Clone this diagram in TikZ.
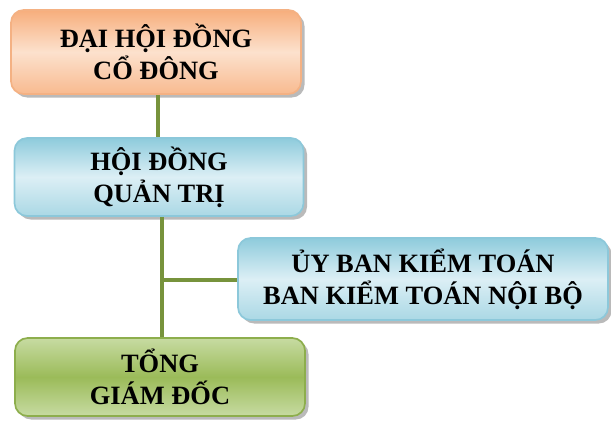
\documentclass[tikz,border=0pt]{standalone}
\usepackage{fontspec}
\setmainfont{Liberation Serif}
\usepackage{xcolor}
\usetikzlibrary{shadows}
\definecolor{dhOrange}{HTML}{F7AE7C}
\definecolor{dhOrangeL}{HTML}{FCE1CD}
\definecolor{dhOrangeB}{HTML}{F4B183}
\definecolor{dhBlue}{HTML}{8ECBDC}
\definecolor{dhBlueL}{HTML}{DCEFF5}
\definecolor{dhBlueB}{HTML}{8CC8DA}
\definecolor{dhGreen}{HTML}{9BBB59}
\definecolor{dhGreenL}{HTML}{C7DBA2}
\definecolor{dhGreenB}{HTML}{8DAE4C}
\definecolor{dhLine}{HTML}{77933C}

\begin{document}
\begin{tikzpicture}[x=0.025cm, y=-0.025cm,
        box/.style={rounded corners=9pt, line width=1.2pt, align=center,
            font=\bfseries\fontsize{18.8}{22.6}\selectfont,
            drop shadow={shadow xshift=2.5pt, shadow yshift=-2.5pt, fill=black!45, opacity=0.6}},
        orangebox/.style={box, draw=dhOrangeB, top color=dhOrange, bottom color=dhOrange!85, middle color=dhOrangeL},
        bluebox/.style={box, draw=dhBlueB, top color=dhBlue, bottom color=dhBlue!75, middle color=dhBlueL},
        greenbox/.style={box, draw=dhGreenB, top color=dhGreenL, bottom color=dhGreenL, middle color=dhGreen},
        link/.style={dhLine, line width=2.6pt}]
        \useasboundingbox (0,0) rectangle (611,423);

        \node[orangebox, minimum width=290*0.025cm, minimum height=84*0.025cm] (dhcd) at (156,52) {ĐẠI HỘI ĐỒNG\\CỔ ĐÔNG};
        \node[bluebox, minimum width=289*0.025cm, minimum height=78*0.025cm] (hdqt) at (159,177) {HỘI ĐỒNG\\QUẢN TRỊ};
        \node[bluebox, minimum width=370*0.025cm, minimum height=82*0.025cm] (ubkt) at (423,279) {ỦY BAN KIỂM TOÁN\\BAN KIỂM TOÁN NỘI BỘ};
        \node[greenbox, minimum width=290*0.025cm, minimum height=78*0.025cm] (tgd) at (160,377) {TỔNG\\GIÁM ĐỐC};

        \coordinate (nhanh) at (162,280);
        \coordinate (tren) at (158,0);
        \coordinate (duoi) at (162,0);

        \draw[link] (tren |- dhcd.south) -- (tren |- hdqt.north);
        \draw[link] (duoi |- hdqt.south) -- (duoi |- tgd.north);
        \draw[link] (nhanh) -- (nhanh -| ubkt.west);
\end{tikzpicture}
\end{document}
